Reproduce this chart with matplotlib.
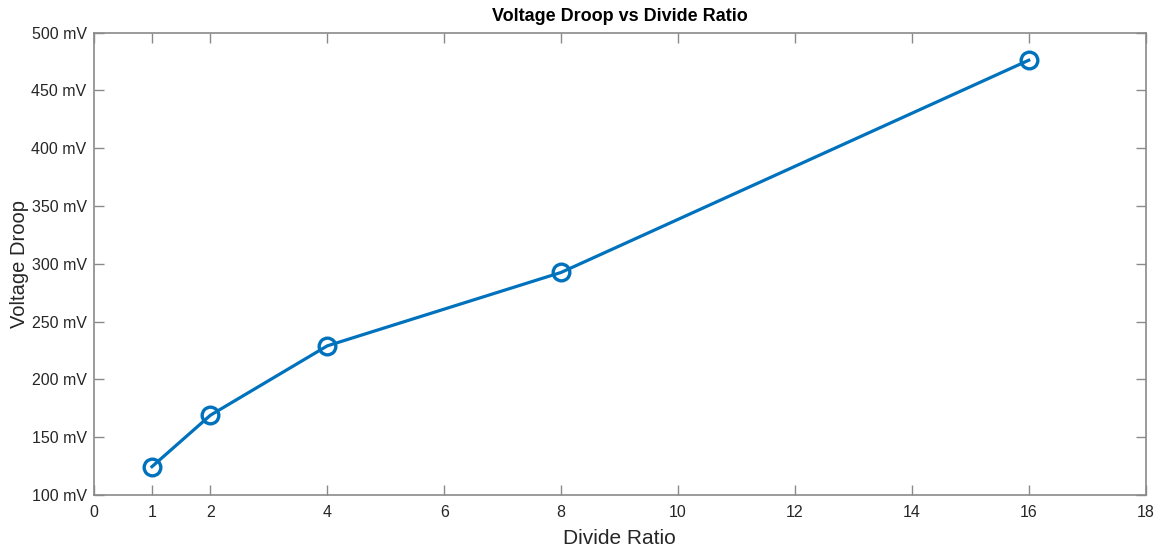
import matplotlib
matplotlib.use("Agg")
import matplotlib.pyplot as plt
from matplotlib.ticker import FuncFormatter

divide_ratio = [1, 2, 4, 8, 16]
droop_mv = [124.5, 169, 229, 292.5, 476]
x_ticks = [0, 1, 2, 4, 6, 8, 10, 12, 14, 16, 18]
y_ticks = [100, 150, 200, 250, 300, 350, 400, 450, 500]

plt.rcParams['font.family'] = ['Liberation Sans', 'DejaVu Sans']

fig = plt.figure(figsize=(11.69, 5.49), dpi=100)
ax = fig.add_axes([0.080, 0.0984, 0.900, 0.8424])

ax.plot(divide_ratio, droop_mv, color='#0072BD', linewidth=2.3,
        marker='o', markersize=12, markerfacecolor='none',
        markeredgewidth=2.4, markeredgecolor='#0072BD')

ax.set_xlim(0, 18)
ax.set_ylim(100, 500)
ax.set_xticks(x_ticks)
ax.set_yticks(y_ticks)
ax.yaxis.set_major_formatter(FuncFormatter(lambda v, p: f"{int(v)} mV"))

axis_color = '#8a8a8a'
for s in ax.spines.values():
    s.set_color(axis_color)
    s.set_linewidth(1.2)
ax.tick_params(direction='in', length=7, width=1.0, color=axis_color,
               labelcolor='#262626', labelsize=11.5, top=True, right=True)
ax.tick_params(axis='x', pad=7)
ax.tick_params(axis='y', pad=5)

ax.set_xlabel('Divide Ratio', fontsize=15, color='#262626', labelpad=7)
ax.set_ylabel('Voltage Droop', fontsize=14.5, color='#262626', labelpad=2)
ax.set_title('Voltage Droop vs Divide Ratio', fontsize=13, fontweight='bold',
             color='black', pad=8)

fig.savefig('out.png', dpi=100)
